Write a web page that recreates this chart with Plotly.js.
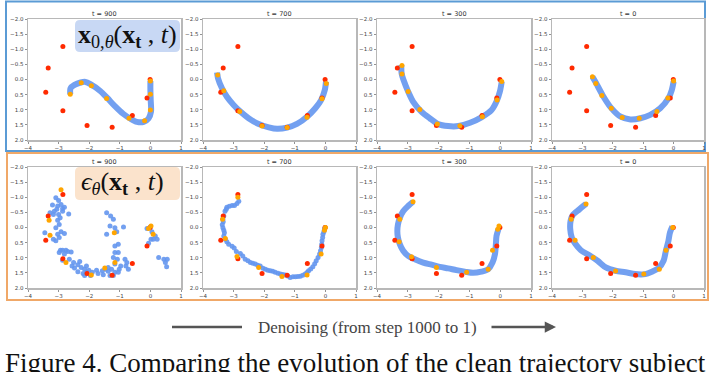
<!DOCTYPE html>
<html><head><meta charset="utf-8">
<script src="https://cdn.plot.ly/plotly-3.0.1.min.js"></script>
<style>html,body{margin:0;padding:0;background:#fff;}#chart{width:711px;height:372px;}</style>
</head><body><div id="chart"></div>
<script>
// ---------- DATA ----------
const panelTitles = ['t = 900', 't = 700', 't = 300', 't = 0'];
const xTicks = [-4, -3, -2, -1, 0, 1];
const yTicks = [-2.0, -1.5, -1.0, -0.5, 0.0, 0.5, 1.0, 1.5, 2.0];
const topLabel = '<b>x</b><sub>0,<i>θ</i></sub>(<b>x</b><sub><b>t</b></sub> , <i>t</i>)';
const bottomLabel = '<i>ϵ</i><sub><i>θ</i></sub>(<b>x</b><sub><b>t</b></sub> , <i>t</i>)';
const arrowText = 'Denoising (from step 1000 to 1)';
const captionText = 'Figure 4. Comparing the evolution of the clean trajectory subject';

// observed (red) points
const obsX = [-2.86, -3.34, -3.42, -2.86, -2.07, -1.25, -0.59, -0.11, -0.01];
const obsY = [-1.09, -0.38, 0.42, 1.03, 1.52, 1.58, 1.19, 0.61, 0.0];

// top row: x0 prediction
const top900X = [-2.62, -2.61, -2.48, -2.28, -2.12, -1.96, -1.65, -1.41, -1.16, -0.88, -0.66, -0.44, -0.22, -0.06, 0.02, 0.01, 0.0, 0.0];
const top900Y = [0.49, 0.29, 0.18, 0.10, 0.08, 0.15, 0.37, 0.61, 0.88, 1.14, 1.29, 1.40, 1.40, 1.29, 1.06, 0.68, 0.35, 0.05];
const top900OX = [-2.62, -2.26, -1.93, -1.43, -0.70, -0.19, 0.0, 0.0, 0.0];
const top900OY = [0.49, 0.11, 0.21, 0.63, 1.28, 1.36, 1.01, 0.49, 0.05];

const top700X = [-3.54, -3.51, -3.38, -3.22, -3.00, -2.78, -2.51, -2.18, -1.85, -1.58, -1.25, -0.93, -0.60, -0.33, -0.14, -0.02, 0.02];
const top700Y = [-0.23, -0.04, 0.29, 0.57, 0.84, 1.06, 1.28, 1.47, 1.58, 1.63, 1.59, 1.47, 1.23, 0.95, 0.68, 0.35, 0.07];
const top700OX = [-3.52, -3.32, -2.80, -2.07, -1.25, -0.60, -0.11, 0.03];
const top700OY = [-0.15, 0.37, 1.06, 1.54, 1.59, 1.25, 0.64, 0.13];

const top300X = [-3.21, -3.20, -3.12, -2.99, -2.83, -2.56, -2.29, -2.02, -1.69, -1.36, -0.98, -0.61, -0.28, -0.12, -0.01, 0.05];
const top300Y = [-0.48, -0.20, 0.07, 0.40, 0.73, 1.06, 1.28, 1.47, 1.54, 1.54, 1.43, 1.25, 1.01, 0.73, 0.40, 0.07];
const top300OX = [-3.19, -3.19, -2.99, -2.61, -2.04, -1.31, -0.58, -0.10, 0.05];
const top300OY = [-0.46, -0.18, 0.40, 0.99, 1.47, 1.53, 1.23, 0.68, 0.07];

const top0X = [-2.67, -2.56, -2.34, -2.07, -1.74, -1.42, -1.09, -0.77, -0.44, -0.17, -0.06, 0.0];
const top0Y = [-0.09, 0.10, 0.51, 0.92, 1.23, 1.32, 1.28, 1.17, 0.95, 0.62, 0.35, 0.07];
const top0OX = [-2.67, -2.56, -2.36, -2.05, -1.69, -1.13, -0.55, -0.19, 0.0];
const top0OY = [-0.09, 0.13, 0.53, 0.95, 1.26, 1.28, 1.06, 0.61, 0.05];

// bottom row: epsilon prediction
const bot900X = [-3.09, -3.00, -3.20, -3.03, -2.92, -2.87, -3.06, -3.14, -3.28, -3.17, -3.00, -2.81, -2.87, -2.67, -2.95, -3.03, -2.98, -3.09, -2.92, -3.03, -2.81, -2.98, -3.09, -3.17, -3.45, -2.94, -2.87, -2.76, -2.70, -2.59, -2.98, -2.81, -2.65, -2.51, -2.31, -2.56, -2.37, -2.26, -2.09, -2.15, -2.01, -2.09, -2.20, -1.90, -1.76, -1.71, -1.57, -1.54, -1.38, -1.32, -1.46, -1.96, -2.15, -2.37, -2.48, -2.87,
  -1.43, -1.30, -1.21, -1.32, -1.43, -1.16, -0.88, -1.10, -1.05, -1.16, -1.05, -1.16, -1.21, -1.08, -1.16, -0.97, -1.02, -1.16, -1.05, -0.83, -0.77, -0.80, -0.72, -1.27, -1.38, -1.21,
  -0.11, 0.00, 0.05, 0.16, 0.09, 0.22, 0.27, 0.44, 0.55, 0.49, 0.53, -0.06, 0.02];
const bot900Y = [-0.98, -0.89, -0.74, -0.71, -0.76, -0.63, -0.60, -0.54, -0.49, -0.43, -0.43, -0.67, -0.54, -0.45, -0.32, -0.24, -0.10, 0.01, 0.14, 0.22, 0.20, 0.33, 0.44, 0.39, 0.17, 0.75, 0.75, 0.75, 0.79, 0.81, 0.83, 0.88, 1.05, 1.16, 1.12, 1.27, 1.23, 1.32, 1.27, 1.38, 1.41, 1.48, 1.52, 1.48, 1.41, 1.52, 1.43, 1.56, 1.45, 1.59, 1.38, 1.59, 1.59, 1.46, 1.34, 1.08,
  -0.49, -0.38, -0.27, -0.05, 0.22, 0.01, -0.02, 0.14, 0.55, 0.61, 0.83, 0.83, 0.99, 1.05, 1.21, 1.27, 1.38, 1.48, 1.48, 1.05, 1.16, 1.27, 1.38, 1.38, 1.32, 1.59,
  0.03, -0.02, 0.14, 0.28, 0.39, 0.39, 0.99, 1.05, 1.05, 1.16, 1.30, 0.52, 0.39];
const bot900OX = [-2.92, -3.31, -3.28, -2.76, -1.93, -1.49, -1.16, -1.18, -0.06, 0.02, 0.09];
const bot900OY = [-1.25, -0.24, 0.26, 1.16, 1.57, 1.34, 1.16, 0.17, 0.03, -0.05, 0.22];

const bot700X = [-2.83, -2.89, -2.97, -3.05, -3.14, -3.22, -3.24, -3.28, -3.32, -3.35, -3.34, -3.37, -3.35, -3.32, -3.30, -3.32, -3.27, -3.22, -3.16, -3.05, -2.98, -2.91, -2.78, -2.70, -2.62, -2.53, -2.45, -2.37, -2.29, -2.21, -2.13, -2.04, -1.96, -1.88, -1.80, -1.72, -1.64, -1.55, -1.47, -1.39, -1.31, -1.23, -1.15, -1.06, -0.98, -0.90, -0.82, -0.74, -0.66, -0.60, -0.55, -0.48, -0.41, -0.35, -0.30, -0.24, -0.19, -0.16, -0.13, -0.12, -0.11, -0.09, -0.08, -0.05, -0.03, -0.01];
const bot700Y = [-0.87, -0.79, -0.73, -0.73, -0.70, -0.67, -0.60, -0.54, -0.38, -0.28, -0.19, -0.09, 0.01, 0.09, 0.17, 0.28, 0.39, 0.47, 0.55, 0.62, 0.68, 0.79, 0.86, 0.94, 1.05, 1.10, 1.16, 1.18, 1.21, 1.25, 1.27, 1.35, 1.38, 1.41, 1.43, 1.45, 1.48, 1.51, 1.54, 1.55, 1.57, 1.60, 1.65, 1.63, 1.63, 1.62, 1.61, 1.58, 1.54, 1.49, 1.43, 1.37, 1.30, 1.20, 1.10, 0.99, 0.88, 0.77, 0.66, 0.55, 0.44, 0.33, 0.22, 0.14, 0.06, 0.0];
const bot700OX = [-2.86, -3.36, -3.27, -2.89, -2.18, -1.42, -0.60, -0.14, -0.03, 0.0];
const bot700OY = [-1.00, -0.27, 0.36, 0.96, 1.32, 1.62, 1.57, 0.88, 0.09, 0.0];

const bot300X = [-2.83, -2.99, -3.15, -3.26, -3.32, -3.34, -3.32, -3.26, -3.15, -2.99, -2.77, -2.50, -2.23, -1.96, -1.69, -1.42, -1.15, -0.88, -0.61, -0.39, -0.25, -0.17, -0.14, -0.12, -0.06];
const bot300Y = [-0.85, -0.71, -0.54, -0.32, -0.10, 0.12, 0.33, 0.55, 0.77, 0.94, 1.05, 1.16, 1.23, 1.30, 1.35, 1.41, 1.46, 1.50, 1.46, 1.38, 1.16, 0.88, 0.55, 0.28, 0.06];
const bot300OX = [-2.83, -3.26, -3.28, -2.88, -2.07, -1.09, -0.39, -0.25, -0.08, -0.04];
const bot300OY = [-0.85, -0.27, 0.47, 0.97, 1.32, 1.48, 1.38, 0.75, 0.06, -0.05];

const bot0X = [-2.88, -3.10, -3.32, -3.39, -3.40, -3.35, -3.24, -3.05, -2.77, -2.50, -2.23, -1.91, -1.58, -1.26, -0.93, -0.71, -0.50, -0.33, -0.25, -0.17, -0.12, -0.04];
const bot0Y = [-0.78, -0.60, -0.41, -0.21, 0.06, 0.33, 0.53, 0.75, 0.92, 1.10, 1.32, 1.43, 1.48, 1.54, 1.54, 1.46, 1.35, 1.10, 0.75, 0.44, 0.17, -0.03];
const bot0OX = [-2.88, -3.37, -3.24, -2.64, -1.91, -0.98, -0.47, -0.25, -0.03];
const bot0OY = [-0.78, -0.27, 0.42, 0.99, 1.44, 1.54, 1.38, 0.75, 0.0];

// ---------- LAYOUT ----------
const W = 711, H = 372;
const colsPx = [[28, 181], [203, 356], [377, 531], [552, 704]];
const rowsPx = [[19, 140], [167, 288]];
const px = v => v / W, py = v => 1 - v / H;

const BLUE = '#6496ee', RED = '#ff2a00', ORANGE = '#ffa500';

const panels = [
  {bx: top900X, by: top900Y, ox: top900OX, oy: top900OY, style: 'line'},
  {bx: top700X, by: top700Y, ox: top700OX, oy: top700OY, style: 'line'},
  {bx: top300X, by: top300Y, ox: top300OX, oy: top300OY, style: 'line'},
  {bx: top0X, by: top0Y, ox: top0OX, oy: top0OY, style: 'line'},
  {bx: bot900X, by: bot900Y, ox: bot900OX, oy: bot900OY, style: 'dots'},
  {bx: bot700X, by: bot700Y, ox: bot700OX, oy: bot700OY, style: 'dots'},
  {bx: bot300X, by: bot300Y, ox: bot300OX, oy: bot300OY, style: 'line'},
  {bx: bot0X, by: bot0Y, ox: bot0OX, oy: bot0OY, style: 'line'}
];

const traces = [];
const layout = {
  width: W, height: H, margin: {l: 0, r: 0, t: 0, b: 0},
  paper_bgcolor: '#fff', plot_bgcolor: '#fff', showlegend: false,
  shapes: [], annotations: []
};

const axBase = {
  showline: true, mirror: true, linecolor: '#b8b8b8', linewidth: 1.5,
  ticks: 'outside', ticklen: 2, tickwidth: 0.8, tickcolor: '#777',
  tickfont: {size: 5.5, color: '#444', family: 'DejaVu Sans'},
  showgrid: false, zeroline: false, fixedrange: true
};

panels.forEach((p, i) => {
  const n = i + 1, r = Math.floor(i / 4), c = i % 4;
  const xa = 'x' + n, ya = 'y' + n;
  layout['xaxis' + n] = Object.assign({}, axBase, {
    domain: [px(colsPx[c][0]), px(colsPx[c][1])], range: [-4, 1],
    tickvals: xTicks, anchor: ya
  });
  layout['yaxis' + n] = Object.assign({}, axBase, {
    domain: [py(rowsPx[r][1]), py(rowsPx[r][0])], range: [2, -2],
    tickvals: yTicks, tickformat: '.1f', anchor: xa
  });
  if (p.style === 'line') {
    traces.push({type: 'scatter', mode: 'lines', x: p.bx, y: p.by, xaxis: xa, yaxis: ya,
      line: {color: BLUE, width: 6, shape: 'spline', smoothing: 0.8}, opacity: 0.9, hoverinfo: 'skip'});
  } else {
    traces.push({type: 'scatter', mode: 'markers', x: p.bx, y: p.by, xaxis: xa, yaxis: ya,
      marker: {color: BLUE, size: 5, opacity: 0.9}, hoverinfo: 'skip'});
  }
  traces.push({type: 'scatter', mode: 'markers', x: obsX, y: obsY, xaxis: xa, yaxis: ya,
    marker: {color: RED, size: 5}, hoverinfo: 'skip'});
  traces.push({type: 'scatter', mode: 'markers', x: p.ox, y: p.oy, xaxis: xa, yaxis: ya,
    marker: {color: ORANGE, size: 5}, hoverinfo: 'skip'});
  layout.annotations.push({
    xref: 'paper', yref: 'paper', x: px((colsPx[c][0] + colsPx[c][1]) / 2), y: py(rowsPx[r][0] - 5),
    text: panelTitles[c], showarrow: false, font: {size: 6.5, color: '#333', family: 'DejaVu Sans'},
    xanchor: 'center', yanchor: 'middle'
  });
});

// outer frames
layout.shapes.push({type: 'rect', xref: 'paper', yref: 'paper', x0: px(6), x1: px(705), y0: py(151), y1: py(1.5),
  line: {color: '#5b9bd5', width: 2}, layer: 'below'});
layout.shapes.push({type: 'rect', xref: 'paper', yref: 'paper', x0: px(7), x1: px(708), y0: py(300), y1: py(153),
  line: {color: '#f0a868', width: 2}, layer: 'below'});

// rounded label boxes
function roundRect(x0, y0, x1, y1, rr) {
  const X = v => px(v).toFixed(5), Y = v => py(v).toFixed(5);
  return `M${X(x0 + rr)},${Y(y0)} L${X(x1 - rr)},${Y(y0)} Q${X(x1)},${Y(y0)} ${X(x1)},${Y(y0 + rr)} ` +
    `L${X(x1)},${Y(y1 - rr)} Q${X(x1)},${Y(y1)} ${X(x1 - rr)},${Y(y1)} L${X(x0 + rr)},${Y(y1)} ` +
    `Q${X(x0)},${Y(y1)} ${X(x0)},${Y(y1 - rr)} L${X(x0)},${Y(y0 + rr)} Q${X(x0)},${Y(y0)} ${X(x0 + rr)},${Y(y0)} Z`;
}
layout.shapes.push({type: 'path', xref: 'paper', yref: 'paper', path: roundRect(75, 20, 180, 52, 5),
  fillcolor: '#c8d8f4', line: {width: 0}, layer: 'above'});
layout.shapes.push({type: 'path', xref: 'paper', yref: 'paper', path: roundRect(75, 167, 180, 200, 5),
  fillcolor: '#fbe3cc', line: {width: 0}, layer: 'above'});

layout.annotations.push({xref: 'paper', yref: 'paper', x: px(127), y: py(36), text: topLabel, showarrow: false,
  font: {size: 26, color: '#111', family: 'Liberation Serif'}, xanchor: 'center', yanchor: 'middle'});
layout.annotations.push({xref: 'paper', yref: 'paper', x: px(122), y: py(183), text: bottomLabel, showarrow: false,
  font: {size: 26, color: '#111', family: 'Liberation Serif'}, xanchor: 'center', yanchor: 'middle'});

// denoising arrow
layout.shapes.push({type: 'line', xref: 'paper', yref: 'paper', x0: px(172), x1: px(242), y0: py(327), y1: py(327),
  line: {color: '#555', width: 2.5}});
layout.annotations.push({xref: 'paper', yref: 'paper', x: px(367), y: py(327), text: arrowText, showarrow: false,
  font: {size: 17, color: '#444', family: 'Liberation Serif'}, xanchor: 'center', yanchor: 'middle'});
layout.annotations.push({xref: 'paper', yref: 'paper', x: px(556), y: py(327), ax: -66, ay: 0, text: '',
  showarrow: true, arrowhead: 2, arrowsize: 0.9, arrowwidth: 2.5, arrowcolor: '#555'});

// caption (cut at the bottom edge, as in the reference)
layout.annotations.push({xref: 'paper', yref: 'paper', x: px(3), y: py(363), text: captionText, showarrow: false,
  font: {size: 27, color: '#111', family: 'Liberation Serif'}, xanchor: 'left', yanchor: 'middle'});

Plotly.newPlot('chart', traces, layout, {staticPlot: true, displayModeBar: false});
</script></body></html>
